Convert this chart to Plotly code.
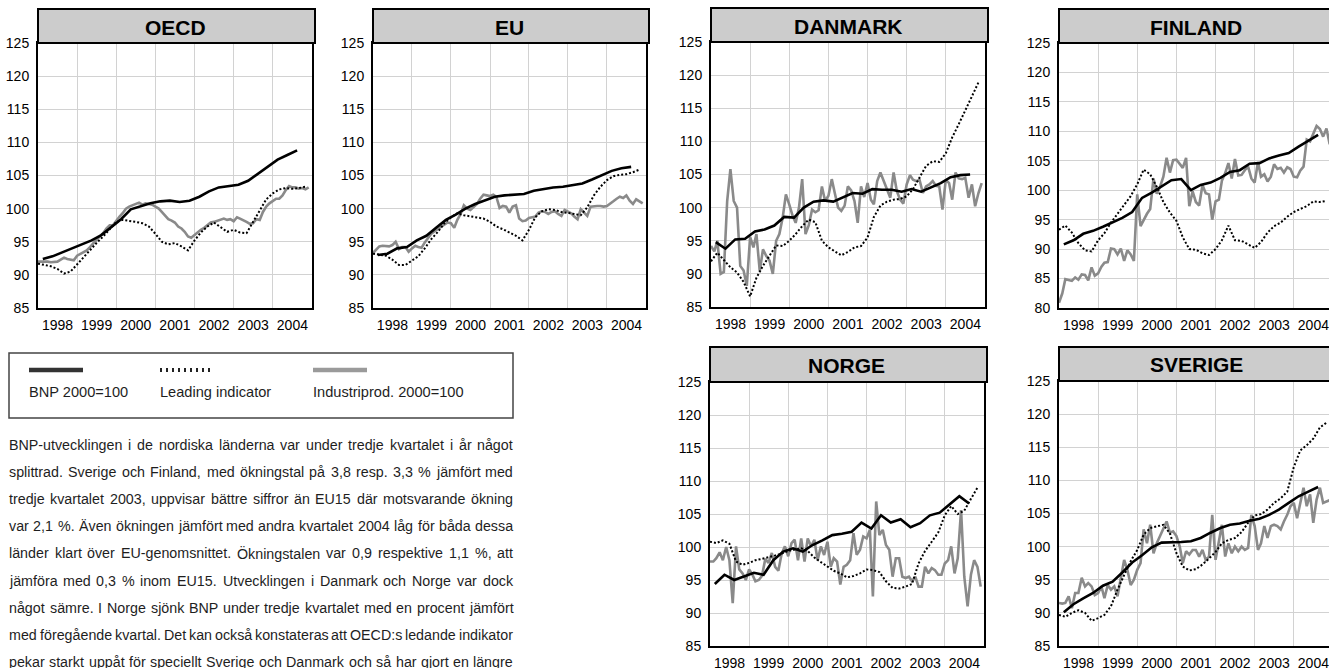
import pandas as pd
import plotly.graph_objects as go

W, H = 1329, 668

# time axes (quarterly BNP, monthly industrial production, bi-monthly leading indicator)
quarters = pd.date_range("1998-01-01", periods=27, freq="QS") + pd.Timedelta(days=45)
months = pd.date_range("1998-01-01", periods=84, freq="MS")
bimonths = pd.date_range("1998-01-01", periods=42, freq="2MS")
years = list(range(1998, 2005))

# --- OECD ---
bnp_oecd = [92.4, 92.8, 93.4, 94.0, 94.6, 95.2, 96.0, 97.2, 98.4, 99.9, 100.4, 100.8, 101.1, 101.2,
            101.0, 101.2, 101.8, 102.6, 103.2, 103.4, 103.6, 104.2, 105.3, 106.4, 107.4, 108.1, 108.8]
li_oecd = [91.7, 91.5, 91.3, 90.9, 90.2, 90.5, 91.6, 92.6, 93.8, 94.8, 95.8, 96.9, 98.0, 98.3,
           98.2, 98.0, 97.8, 97.3, 96.2, 95.0, 94.6, 94.8, 94.3, 93.7, 95.2, 96.4, 97.3, 97.9,
           97.2, 96.5, 96.8, 96.4, 96.3, 98.0, 99.8, 101.4, 102.3, 102.9, 103.1, 103.0, 103.1, 103.3]
ip_oecd = [92.0, 92.0, 92.1, 92.0, 91.9, 91.9, 92.0, 92.3, 92.6, 92.4, 92.3, 92.2,
           92.9, 93.2, 93.4, 93.7, 94.2, 94.8, 95.3, 95.8, 96.3, 97.0, 97.5, 97.5,
           98.2, 98.8, 99.3, 100.0, 100.3, 100.5, 100.6, 100.9, 100.6, 100.8, 100.7, 100.6,
           100.3, 100.0, 99.5, 98.9, 98.4, 98.2, 97.9, 97.3, 97.0, 96.5, 95.8, 95.6,
           96.0, 96.5, 96.8, 97.1, 97.5, 97.9, 98.0, 98.2, 98.4, 98.5, 98.3, 98.4,
           98.1, 98.7, 98.5, 98.3, 98.0, 97.7, 97.8, 98.4, 98.3, 99.5, 100.3, 100.8,
           101.2, 101.5, 101.5, 102.0, 102.8, 103.4, 103.2, 103.2, 103.0, 103.1, 102.9, 103.2]

# --- EU ---
bnp_eu = [93.0, 93.2, 94.0, 94.2, 95.2, 95.9, 97.1, 98.3, 99.1, 100.0, 100.7, 101.3, 101.8, 102.0,
          102.1, 102.2, 102.7, 103.0, 103.2, 103.3, 103.5, 103.8, 104.4, 105.1, 105.7, 106.1, 106.3]
li_eu = [93.2, 93.0, 92.9, 92.3, 91.5, 91.5, 92.1, 92.8, 94.0, 95.4, 96.5, 97.8, 98.7, 99.3,
         99.0, 98.8, 98.7, 98.5, 98.0, 97.3, 96.9, 96.4, 95.9, 95.2, 96.8, 98.7, 99.6, 99.9,
         99.8, 99.5, 99.4, 99.2, 99.0, 100.2, 102.0, 103.3, 104.3, 104.9, 105.1, 105.2, 105.5, 105.9]
ip_eu = [93.3, 93.8, 94.3, 94.4, 94.4, 94.3, 94.5, 95.0, 93.9, 94.2, 94.2, 93.5,
         94.0, 94.4, 94.2, 94.1, 94.9, 95.6, 96.2, 96.6, 96.9, 97.2, 97.6, 97.9,
         97.8, 97.1, 98.3, 99.2, 100.5, 100.0, 99.8, 100.2, 100.7, 101.5, 102.1, 102.0,
         101.9, 102.1, 101.8, 100.1, 100.4, 100.3, 99.4, 100.3, 100.5, 98.5, 98.1, 98.2,
         98.6, 98.7, 98.8, 99.4, 99.6, 99.5, 99.2, 99.5, 99.6, 99.2, 98.9, 99.8,
         99.5, 99.3, 98.8, 98.4, 99.9, 99.4, 98.9, 100.3, 100.4, 100.4, 100.4, 100.3,
         100.4, 100.7, 101.1, 101.5, 101.8, 101.6, 102.0, 101.2, 100.7, 101.4, 101.1, 100.8]

# --- DANMARK ---
bnp_dk = [94.8, 93.8, 95.2, 95.3, 96.4, 96.7, 97.3, 98.6, 98.5, 100.0, 100.9, 101.1, 100.9, 101.6,
          102.2, 102.1, 102.8, 102.7, 102.7, 102.4, 102.8, 102.4, 103.1, 103.7, 104.6, 104.9, 105.0]
li_dk = [91.9, 93.2, 92.1, 91.0, 90.2, 88.8, 86.6, 89.4, 91.2, 92.8, 94.3, 94.2, 95.0, 96.0,
         97.2, 98.2, 97.8, 95.0, 94.0, 93.4, 92.8, 93.3, 94.0, 94.2, 95.5, 98.6, 100.3, 100.9,
         101.2, 101.3, 101.7, 102.8, 104.5, 106.3, 107.0, 106.9, 108.2, 110.6, 112.6, 114.6, 116.8, 118.9]
ip_dk = [94.2, 93.4, 95.0, 90.0, 90.3, 101.0, 105.8, 101.0, 100.0, 91.2, 90.5, 88.2,
         95.6, 94.0, 96.0, 90.4, 93.7, 92.7, 92.0, 90.0, 95.0, 96.0, 98.5, 102.0,
         100.5, 98.8, 97.7, 100.0, 104.3, 96.0, 97.3, 99.7, 99.3, 99.6, 103.2, 101.0,
         101.8, 104.3, 102.2, 100.0, 99.5, 100.3, 103.2, 102.6, 101.0, 97.7, 103.2, 101.6,
         103.7, 101.2, 100.5, 104.0, 105.3, 104.0, 102.7, 101.5, 105.3, 102.5, 101.2, 100.6,
         103.5, 104.9, 104.2, 104.0, 104.2, 102.2, 103.2, 103.5, 104.0, 103.3, 103.2, 99.7,
         104.2, 103.7, 101.2, 105.3, 104.4, 104.3, 104.5, 101.5, 103.5, 100.2, 102.2, 103.7]

# --- FINLAND ---
bnp_fi = [90.8, 91.5, 92.6, 93.1, 93.8, 94.6, 95.3, 96.3, 98.7, 99.6, 100.6, 101.7, 101.9, 100.0,
          100.9, 101.3, 102.1, 103.1, 103.4, 104.5, 104.6, 105.4, 105.9, 106.3, 107.4, 108.4, 109.4]
li_fi = [93.3, 94.0, 92.8, 91.0, 89.8, 89.6, 91.5, 92.7, 94.5, 96.0, 97.5, 99.0, 101.0, 103.5,
         102.7, 100.6, 98.0, 96.2, 94.8, 92.0, 90.0, 89.9, 89.3, 89.0, 90.0, 91.5, 94.0, 91.5,
         91.4, 90.8, 90.2, 91.2, 92.8, 93.9, 94.5, 95.5, 96.3, 96.8, 97.3, 98.1, 98.0, 98.2]
ip_fi = [80.9, 82.5, 84.9, 84.8, 84.6, 85.2, 84.8, 85.7, 85.6, 84.7, 86.9, 85.5,
         85.9, 87.0, 87.7, 87.8, 90.1, 90.0, 89.1, 90.1, 88.0, 89.8, 89.1, 88.0,
         99.3, 93.9, 95.0, 96.0, 96.8, 102.0, 99.4, 100.6, 102.3, 105.5, 103.0, 105.1,
         105.2, 104.5, 103.8, 105.5, 97.3, 99.8, 98.0, 97.4, 100.9, 99.5, 99.3, 95.0,
         98.1, 98.4, 101.6, 102.9, 104.6, 102.0, 105.3, 102.5, 102.6, 103.4, 104.0, 102.0,
         101.3, 104.8, 102.3, 102.7, 101.5, 102.3, 104.4, 103.6, 103.8, 103.0, 103.9, 103.6,
         102.3, 102.2, 103.3, 104.0, 108.6, 108.3, 109.7, 110.9, 110.4, 109.1, 110.5, 107.8]

# --- NORGE ---
bnp_no = [94.4, 95.8, 95.0, 95.5, 96.1, 95.8, 98.0, 99.3, 99.8, 99.3, 100.3, 101.0, 101.8, 102.0,
          102.3, 103.7, 102.8, 104.8, 103.7, 104.2, 103.0, 103.6, 104.8, 105.2, 106.4, 107.7, 106.6]
li_no = [100.8, 100.6, 101.0, 100.5, 97.8, 97.3, 97.6, 98.0, 98.2, 98.4, 98.7, 99.0, 99.4, 99.6,
         99.8, 99.4, 98.4, 97.7, 97.0, 96.4, 96.0, 95.4, 95.6, 96.0, 96.6, 96.5, 96.2, 94.8,
         93.8, 93.7, 94.0, 94.4, 97.5, 99.4, 100.8, 102.2, 104.8, 106.2, 105.0, 105.5, 107.3, 109.0]
ip_no = [97.8, 97.8, 98.3, 99.2, 98.0, 100.0, 98.0, 91.5, 100.1, 96.6, 96.0, 95.0,
         96.6, 95.8, 94.8, 95.0, 95.6, 98.2, 97.6, 99.1, 97.0, 96.4, 99.0, 100.1,
         98.6, 100.6, 101.1, 98.0, 101.3, 97.8, 101.3, 100.1, 101.1, 98.0, 100.1, 98.8,
         100.8, 97.0, 98.3, 97.8, 94.3, 97.0, 97.3, 98.0, 102.1, 98.8, 99.6, 101.6,
         101.3, 102.6, 92.5, 106.9, 101.8, 102.6, 100.3, 99.6, 95.5, 98.3, 98.3, 95.5,
         95.3, 95.5, 94.8, 95.5, 94.0, 94.0, 97.0, 96.0, 96.8, 96.5, 95.8, 95.8,
         97.5, 98.0, 100.1, 96.0, 98.3, 105.6, 95.5, 91.0, 95.8, 98.0, 97.0, 94.0]

# --- SVERIGE ---
bnp_se = [90.1, 91.3, 92.2, 93.0, 94.1, 94.7, 96.1, 97.6, 98.7, 99.9, 100.6, 100.6, 100.7, 100.8,
          101.3, 102.1, 102.8, 103.3, 103.5, 103.9, 104.2, 104.8, 105.6, 106.6, 107.6, 108.3, 109.0]
li_se = [89.7, 89.4, 90.0, 90.4, 90.0, 88.8, 89.2, 89.7, 91.0, 93.5, 95.7, 97.8, 99.5, 101.8,
         102.8, 103.1, 103.3, 102.0, 99.0, 97.0, 96.4, 96.6, 97.3, 98.2, 99.2, 100.5, 101.0, 101.3,
         102.2, 103.6, 104.7, 104.9, 105.6, 106.6, 107.3, 108.3, 112.0, 114.5, 115.3, 116.3, 118.0, 118.7]
ip_se = [91.5, 91.4, 91.5, 92.5, 90.7, 93.0, 93.0, 95.3, 94.0, 94.5, 94.0, 92.7,
         93.0, 94.0, 92.2, 94.2, 93.5, 94.0, 92.5, 95.5, 98.0, 96.5, 94.2, 95.0,
         96.5, 97.5, 102.6, 100.5, 103.3, 99.0, 100.5, 101.6, 102.8, 103.8, 102.1, 102.3,
         101.6, 100.0, 97.5, 99.3, 98.8, 99.5, 99.5, 98.5, 99.5, 98.0, 98.5, 104.8,
         98.0, 101.0, 103.3, 98.5, 100.5, 99.0, 100.0, 99.3, 100.0, 99.5, 99.8, 104.8,
         103.1, 99.5, 100.5, 103.1, 101.3, 103.1, 103.3, 103.1, 102.6, 103.8, 104.8, 106.1,
         106.6, 104.3, 106.6, 108.9, 106.1, 107.9, 103.6, 107.1, 108.9, 106.6, 106.8, 107.0]

# panel boxes in page pixels: x0, x1, band top, plot top, plot bottom
panels = [
    ("OECD", bnp_oecd, li_oecd, ip_oecd, (38, 312, 9, 43, 308), (85, 125), False),
    ("EU", bnp_eu, li_eu, ip_eu, (373, 646, 9, 43, 308), (85, 125), False),
    ("DANMARK", bnp_dk, li_dk, ip_dk, (711, 985, 8, 42, 307), (85, 125), False),
    ("FINLAND", bnp_fi, li_fi, ip_fi, (1059, 1333, 9, 43, 308), (80, 125), True),
    ("NORGE", bnp_no, li_no, ip_no, (710, 984, 347, 382, 646), (85, 125), False),
    ("SVERIGE", bnp_se, li_se, ip_se, (1059, 1333, 347, 381, 646), (85, 125), True),
]

legend_labels = ["BNP 2000=100", "Leading indicator", "Industriprod. 2000=100"]

text_lines = [
    "BNP-utvecklingen i de nordiska länderna var under tredje kvartalet i år något",
    "splittrad. Sverige och Finland, med ökningstal på 3,8 resp. 3,3 % jämfört med",
    "tredje kvartalet 2003, uppvisar bättre siffror än EU15 där motsvarande ökning",
    "var 2,1 %. Även ökningen jämfört med andra kvartalet 2004 låg för båda dessa",
    "länder klart över EU-genomsnittet. Ökningstalen var 0,9 respektive 1,1 %, att",
    "jämföra med 0,3 % inom EU15. Utvecklingen i Danmark och Norge var dock",
    "något sämre. I Norge sjönk BNP under tredje kvartalet med en procent jämfört",
    "med föregående kvartal. Det kan också konstateras att OECD:s ledande indikator",
    "pekar starkt uppåt för speciellt Sverige och Danmark och så har gjort en längre",
]

SANS = "Liberation Sans, Arial, sans-serif"
TICK_FONT = dict(family=SANS, size=14, color="black")
GRID = "#d2d2d2"
IP_GREY = "#8a8a8a"
TEXT_COL = "#1e1e1e"

# Arial / Liberation Sans advance widths (1/1000 em), used to justify the body text
CHAR_W = dict(zip(" ,.-%:=0123456789", [278, 278, 278, 333, 889, 278, 584] + [556] * 10))
CHAR_W.update(dict(zip("ABCDEFGHIJKLMNOPQRSTUVWXYZ",
                       [667, 667, 722, 722, 667, 611, 778, 722, 278, 500, 667, 556, 833,
                        722, 778, 667, 778, 722, 667, 611, 722, 667, 944, 667, 667, 611])))
CHAR_W.update(dict(zip("abcdefghijklmnopqrstuvwxyz",
                       [556, 556, 500, 556, 556, 278, 556, 556, 222, 222, 500, 222, 833,
                        556, 556, 556, 556, 333, 500, 278, 556, 500, 722, 500, 500, 500])))
CHAR_W.update({"å": 556, "ä": 556, "ö": 556, "Ä": 667, "Å": 667, "Ö": 778})


def em_width(s):
    return sum(CHAR_W.get(c, 556) for c in s) / 1000.0


def px(x):
    return x / W


def py(y):
    return 1 - y / H


fig = go.Figure()
layout = {}
shapes = []
annotations = []

for i, (name, bnp, li, ip, box, yr, cropped) in enumerate(panels):
    n = "" if i == 0 else str(i + 1)
    x0, x1, band_top, top, bottom = box
    right = min(x1, W)
    # the two rightmost panels run off the page, so their range is cut with them
    start, stop = pd.Timestamp("1998-01-01"), pd.Timestamp("2005-01-01")
    x_end = start + (stop - start) * ((right - x0) / (x1 - x0))

    fig.add_trace(go.Scatter(x=months, y=ip, mode="lines", line=dict(color=IP_GREY, width=2.6),
                             xaxis="x" + n, yaxis="y" + n, showlegend=False))
    fig.add_trace(go.Scatter(x=bimonths, y=li, mode="lines",
                             line=dict(color="black", width=2, dash="2px,2px"),
                             xaxis="x" + n, yaxis="y" + n, showlegend=False))
    fig.add_trace(go.Scatter(x=quarters, y=bnp, mode="lines", line=dict(color="black", width=2.6),
                             xaxis="x" + n, yaxis="y" + n, showlegend=False))

    layout["xaxis" + n] = dict(
        domain=[px(x0), px(right)], anchor="y" + n, type="date", range=[start, x_end],
        tickmode="array", tickvals=["%d-07-02" % y for y in years], ticktext=[str(y) for y in years],
        showgrid=False, ticks="", ticklabelstandoff=3, tickfont=TICK_FONT, ticklabeloverflow="allow",
        minor=dict(tickmode="array", tickvals=["%d-01-01" % y for y in years[1:]],
                   showgrid=True, gridcolor=GRID, gridwidth=1.3, ticks=""),
        showline=True, linecolor="black", linewidth=2, mirror=True,
        zeroline=False, fixedrange=True, automargin=False,
    )
    layout["yaxis" + n] = dict(
        domain=[py(bottom), py(top)], anchor="x" + n, range=list(yr),
        tickvals=list(range(yr[0], yr[1] + 1, 5)), showgrid=True, gridcolor=GRID, gridwidth=1.3,
        showline=True, linecolor="black", linewidth=2, mirror=not cropped, ticks="",
        ticklabelstandoff=4, tickfont=TICK_FONT, zeroline=False, fixedrange=True, automargin=False,
    )

    # grey title band above each panel
    shapes.append(dict(type="rect", xref="paper", yref="paper", x0=px(x0), x1=px(x1 + 3),
                       y0=py(top), y1=py(band_top), fillcolor="#cccccc",
                       line=dict(color="black", width=2)))
    annotations.append(dict(xref="paper", yref="paper", x=px((x0 + x1) / 2),
                            y=py((band_top + top) / 2 + 1), text="<b>%s</b>" % name,
                            showarrow=False, xanchor="center", yanchor="middle",
                            font=dict(family=SANS, size=21, color="black")))

# legend box
shapes.append(dict(type="rect", xref="paper", yref="paper", x0=px(9), x1=px(513), y0=py(418),
                   y1=py(353), line=dict(color="#444444", width=1.5), fillcolor="white"))
legend_styles = [
    (29, dict(color="#333333", width=4.5)),
    (160, dict(color="#222222", width=4, dash="2px,4px")),
    (313, dict(color="#9a9a9a", width=4.5)),
]
for label, (lx, style) in zip(legend_labels, legend_styles):
    shapes.append(dict(type="line", xref="paper", yref="paper", x0=px(lx), x1=px(lx + 54),
                       y0=py(370), y1=py(370), line=style))
    annotations.append(dict(xref="paper", yref="paper", x=px(lx), y=py(392), text=label,
                            showarrow=False, xanchor="left", yanchor="middle",
                            borderpad=0, borderwidth=0,
                            font=dict(family=SANS, size=14.6, color=TEXT_COL)))

# body text under the legend, justified between x = 9 and x = 513
TEXT_L, TEXT_R = 9, 513
span = TEXT_R - TEXT_L
body_size = min([15.2] + [span / (sum(em_width(w) for w in ln.split()) + 0.2 * (len(ln.split()) - 1))
                          for ln in text_lines])
for k, line in enumerate(text_lines):
    words = line.split()
    widths = [em_width(w) * body_size for w in words]
    gap = (span - sum(widths)) / (len(words) - 1)
    x = TEXT_L
    for word, w in zip(words, widths):
        annotations.append(dict(xref="paper", yref="paper", x=px(x), y=py(445 + 27.1 * k),
                                text=word, showarrow=False, xanchor="left", yanchor="middle",
                                borderpad=0, borderwidth=0,
                                font=dict(family=SANS, size=body_size, color=TEXT_COL)))
        x += w + gap

fig.update_layout(
    width=W, height=H, margin=dict(l=0, r=0, t=0, b=0, autoexpand=False),
    paper_bgcolor="white", plot_bgcolor="white",
    shapes=shapes, annotations=annotations, **layout,
)

# the page body gets no default margin, so page pixels and figure pixels coincide
fig.write_html("out.html", config={"displayModeBar": False},
               post_script="document.body.style.margin='0';"
                           "document.body.style.overflow='hidden';")
